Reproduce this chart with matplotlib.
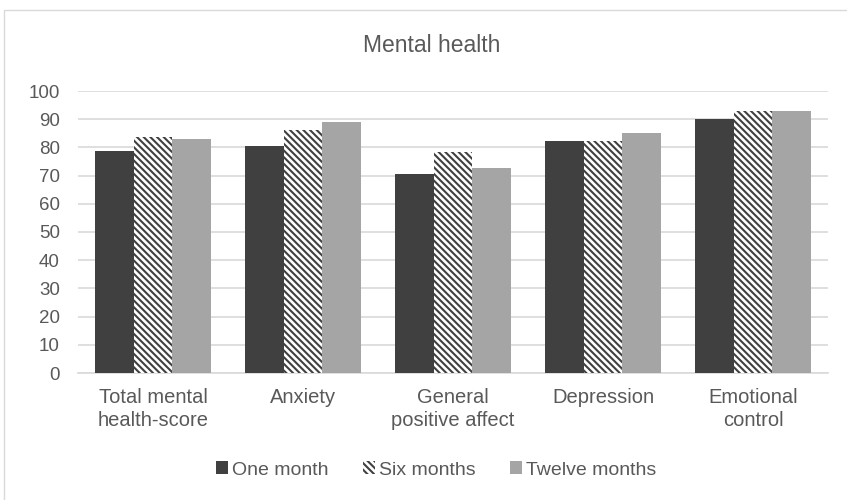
import matplotlib
matplotlib.use("Agg")
import matplotlib.pyplot as plt
import numpy as np
from matplotlib.patches import Rectangle

categories = ["Total mental\nhealth-score", "Anxiety", "General\npositive affect", "Depression", "Emotional\ncontrol"]
one_month = [78.7, 80.5, 70.6, 82.2, 90.1]
six_months = [83.8, 86.2, 78.3, 82.2, 92.9]
twelve_months = [83.1, 89.0, 72.8, 85.1, 93.0]
series_names = ["One month", "Six months", "Twelve months"]
yticks = list(range(0, 101, 10))

plt.rcParams['font.family'] = ['Liberation Sans', 'DejaVu Sans']
plt.rcParams['hatch.linewidth'] = 1.5
plt.rcParams['hatch.color'] = '#404040'

fig = plt.figure(figsize=(8.47, 5.0), dpi=100)
ax = fig.add_axes([78/847, 127/500, 750/847, 282/500])

x = np.arange(len(categories))
w = 0.257
ax.bar(x - w, one_month, w, color='#404040', label=series_names[0], zorder=3)
ax.bar(x, six_months, w, facecolor='white', edgecolor='#404040', linewidth=0,
       hatch='\\\\\\\\\\', label=series_names[1], zorder=3)
ax.bar(x + w, twelve_months, w, color='#A5A5A5', label=series_names[2], zorder=3)

ax.set_xlim(-0.5, len(categories) - 0.5)
ax.set_ylim(0, 100)
ax.set_yticks(yticks)
ax.yaxis.grid(True, color='#D9D9D9', linewidth=1.2, zorder=0)
ax.set_axisbelow(True)
for s in ['top', 'right', 'left']:
    ax.spines[s].set_visible(False)
ax.spines['bottom'].set_color('#D9D9D9')
ax.spines['bottom'].set_linewidth(1.2)
ax.tick_params(axis='both', length=0, labelcolor='#595959')
ax.tick_params(axis='y', pad=13, labelsize=13.5)
ax.tick_params(axis='x', pad=11, labelsize=14.5)
ax.set_xticks(x)
ax.set_xticklabels(categories, linespacing=1.25)

fig.text(432/847, 1 - 45/500, "Mental health", ha='center', va='center', fontsize=16.5, color='#595959')

leg = fig.legend(loc='center', bbox_to_anchor=(436/847, 1 - 470/500), ncol=3, frameon=False,
                 fontsize=14, labelcolor='#595959', handlelength=0.6, handleheight=0.6,
                 handletextpad=0.2, columnspacing=1.8)

fig.patches.append(Rectangle((4/847, -10/500), 860/847, 500/500, transform=fig.transFigure,
                             fill=False, edgecolor='#D9D9D9', linewidth=1))

fig.savefig('out.png', dpi=100)
